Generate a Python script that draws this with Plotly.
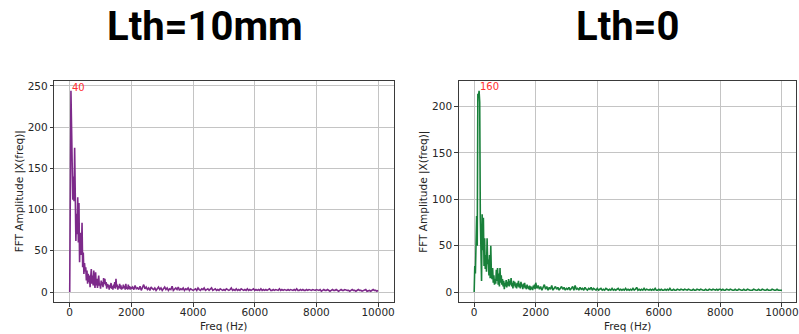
import plotly.graph_objects as go

# ---------------- data ----------------
freq_low = list(range(0, 2001, 20))
freq_tail = list(range(2040, 10001, 40))
freq = freq_low + freq_tail

amp_10mm_low = [
    0, 150, 244, 200, 170, 112, 140, 110, 175, 118,
    62, 95, 70, 115, 60, 108, 36, 72, 45, 50,
    84, 30, 48, 22, 35, 25, 30, 14, 26, 10,
    22, 12, 20, 6, 18, 28, 10, 20, 8, 26,
    12, 5, 24, 8, 16, 5, 12, 20, 8, 10,
    4, 14, 8, 12, 6, 17, 10, 16, 8, 12,
    4, 10, 6, 9, 3, 8, 5, 11, 4, 7,
    3, 9, 5, 12, 4, 16, 6, 9, 3, 7,
    5, 10, 4, 8, 3, 6, 4, 9, 5, 7,
    3, 10, 4, 6, 3, 9, 4, 7, 3, 6,
    4,
]
amp_10mm_tail = [
    6, 3, 8, 4, 5, 3, 7, 2, 5, 9, 4, 6, 3, 5, 2, 6, 4, 3, 5, 2, 4, 6, 3, 5, 2,
    4, 6, 3, 5, 2, 4, 3, 7, 2, 4, 5, 3, 6, 2, 4, 3, 5, 2, 4, 3, 5, 2, 4, 3, 2,
    3, 4, 2, 5, 3, 2, 4, 3, 5, 2, 3, 4, 2, 3, 5, 2, 3, 4, 2, 3, 2, 4, 3, 2, 3,
    2, 4, 3, 2, 3, 5, 2, 3, 2, 4, 2, 3, 2, 4, 3, 2, 3, 2, 4, 2, 3, 2, 3, 4, 2,
    3, 2, 3, 2, 4, 2, 3, 2, 3, 2, 3, 4, 2, 2, 3, 2, 3, 2, 2, 4, 2, 3, 2, 3, 2,
    2, 3, 2, 3, 2, 2, 3, 2, 4, 2, 2, 3, 2, 3, 2, 2, 3, 2, 3, 2, 2, 3, 2, 2, 3,
    2, 2, 3, 1, 2, 3, 2, 2, 3, 2, 1, 2, 3, 2, 2, 3, 2, 1, 2, 3, 2, 2, 3, 2, 2,
    2, 1, 2, 3, 2, 2, 1, 2, 3, 2, 2, 1, 2, 2, 3, 1, 2, 2, 1, 2, 3, 2, 2, 1, 2,
]
amp_0_low = [
    0, 28, 20, 45, 82, 50, 214, 210, 217, 205,
    80, 55, 12, 84, 45, 80, 28, 58, 25, 40,
    22, 58, 30, 35, 18, 40, 15, 50, 20, 14,
    26, 10, 18, 8, 14, 9, 24, 12, 26, 8,
    20, 6, 26, 10, 18, 8, 14, 6, 12, 3,
    10, 6, 13, 5, 11, 7, 14, 6, 12, 8,
    15, 6, 10, 4, 12, 7, 11, 5, 9, 4,
    10, 6, 12, 5, 9, 4, 11, 6, 8, 3,
    9, 5, 10, 4, 7, 3, 8, 4, 6, 3,
    7, 2, 6, 3, 5, 2, 7, 4, 8, 3,
    10,
]
amp_0_tail = [
    4, 7, 3, 6, 2, 5, 8, 3, 6, 2, 5, 3, 7, 2, 4, 6, 3, 5, 2, 4, 6, 3, 5, 2, 4,
    3, 5, 2, 4, 6, 2, 7, 3, 4, 2, 5, 3, 4, 2, 5, 3, 2, 4, 3, 5, 2, 4, 3, 2, 4,
    2, 3, 4, 2, 3, 2, 4, 3, 2, 3, 2, 4, 2, 3, 2, 3, 4, 2, 3, 2, 3, 2, 4, 2, 3,
    2, 3, 2, 4, 2, 3, 5, 2, 3, 2, 3, 2, 4, 2, 3, 2, 2, 3, 2, 3, 2, 4, 2, 2, 3,
    2, 3, 2, 2, 3, 2, 3, 2, 4, 2, 2, 3, 2, 2, 3, 2, 2, 3, 2, 2, 3, 2, 2, 3, 2,
    2, 2, 3, 2, 2, 3, 2, 2, 3, 2, 2, 2, 3, 2, 2, 3, 2, 2, 3, 2, 2, 3, 2, 3, 3,
    2, 3, 2, 2, 3, 2, 2, 3, 2, 2, 2, 3, 2, 2, 3, 2, 2, 2, 3, 2, 2, 3, 2, 2, 2,
    2, 3, 2, 2, 2, 3, 2, 2, 3, 2, 2, 2, 3, 2, 2, 2, 3, 2, 2, 2, 3, 2, 2, 2, 2,
]
amp_10mm = amp_10mm_low + amp_10mm_tail
amp_0 = amp_0_low + amp_0_tail

titles = ["Lth=10mm", "Lth=0"]
peak_labels = ["40", "160"]
peak_pos = [(40, 243), (160, 217)]
x_ticks = [0, 2000, 4000, 6000, 8000, 10000]
x_ticktext = ["0", "2000", "4000", "6000", "8000", "10000"]
y_ticks_left = [0, 50, 100, 150, 200, 250]
y_ticks_right = [0, 50, 100, 150, 200]

# ---------------- figure ----------------
W, H = 799, 334
def px(x):
    return x / W
def py(y):
    return (H - y) / H

fig = go.Figure()
fig.add_trace(go.Scatter(x=freq[:len(amp_10mm)], y=amp_10mm, mode="lines",
                         line=dict(color="#7d2a8a", width=1.6), xaxis="x", yaxis="y",
                         showlegend=False, hoverinfo="skip"))
fig.add_trace(go.Scatter(x=freq[:len(amp_0)], y=amp_0, mode="lines",
                         line=dict(color="#18803a", width=1.6), xaxis="x2", yaxis="y2",
                         showlegend=False, hoverinfo="skip"))

tickfont = dict(family="DejaVu Sans", size=10.5, color="#262626")
ax_common = dict(showline=True, mirror=True, linecolor="#3a3a3a", linewidth=1,
                 showgrid=True, gridcolor="#c4c4c4", gridwidth=1,
                 ticks="outside", ticklen=3.5, tickcolor="#3a3a3a", tickwidth=1,
                 tickfont=tickfont, zeroline=False, fixedrange=True)

ydom = [py(302), py(80)]
fig.update_layout(
    width=W, height=H, margin=dict(l=0, r=0, t=0, b=0),
    paper_bgcolor="white", plot_bgcolor="white",
    xaxis=dict(domain=[px(54.5), px(395)], range=[-500, 10500], tickvals=x_ticks,
               ticktext=x_ticktext, ticklabelstandoff=-3, ticklabeloverflow="allow",
               anchor="y", **ax_common),
    yaxis=dict(domain=ydom, range=[-12.2, 256.2], tickvals=y_ticks_left,
               anchor="x", **ax_common),
    xaxis2=dict(domain=[px(460.5), px(798.5)], range=[-500, 10440], tickvals=x_ticks,
                ticktext=x_ticktext, ticklabelstandoff=-3, ticklabeloverflow="allow",
                anchor="y2", **ax_common),
    yaxis2=dict(domain=ydom, range=[-10.85, 227.9], tickvals=y_ticks_right,
                anchor="x2", **ax_common),
)

ann = []
title_font = dict(family="Roboto", size=40, color="black", weight=700)
ann.append(dict(text=titles[0], x=px(206), y=py(26), xref="paper", yref="paper",
                xanchor="center", yanchor="middle", showarrow=False, font=title_font))
ann.append(dict(text=titles[1], x=px(630), y=py(26), xref="paper", yref="paper",
                xanchor="center", yanchor="middle", showarrow=False, font=title_font))
lab_font = dict(family="DejaVu Sans", size=10.5, color="#262626")
for xc in (px(224.75), px(630)):
    ann.append(dict(text="Freq (Hz)", x=xc, y=py(326), xref="paper", yref="paper",
                    xanchor="center", yanchor="middle", showarrow=False, font=lab_font))
for xc in (px(20), px(425)):
    ann.append(dict(text="FFT Amplitude |X(freq)|", x=xc, y=py(191), xref="paper",
                    yref="paper", xanchor="center", yanchor="middle", textangle=-90,
                    showarrow=False, font=lab_font))
for (xa, ya), lab, (xr, yr) in zip(peak_pos, peak_labels, [("x", "y"), ("x2", "y2")]):
    ann.append(dict(text=lab, x=xa, y=ya, xref=xr, yref=yr, xanchor="left",
                    yanchor="bottom", showarrow=False, yshift=-3, xshift=-1,
                    font=dict(family="DejaVu Sans", size=10, color="#ff3030")))
fig.update_layout(annotations=ann)

fig.write_html("out.html")
